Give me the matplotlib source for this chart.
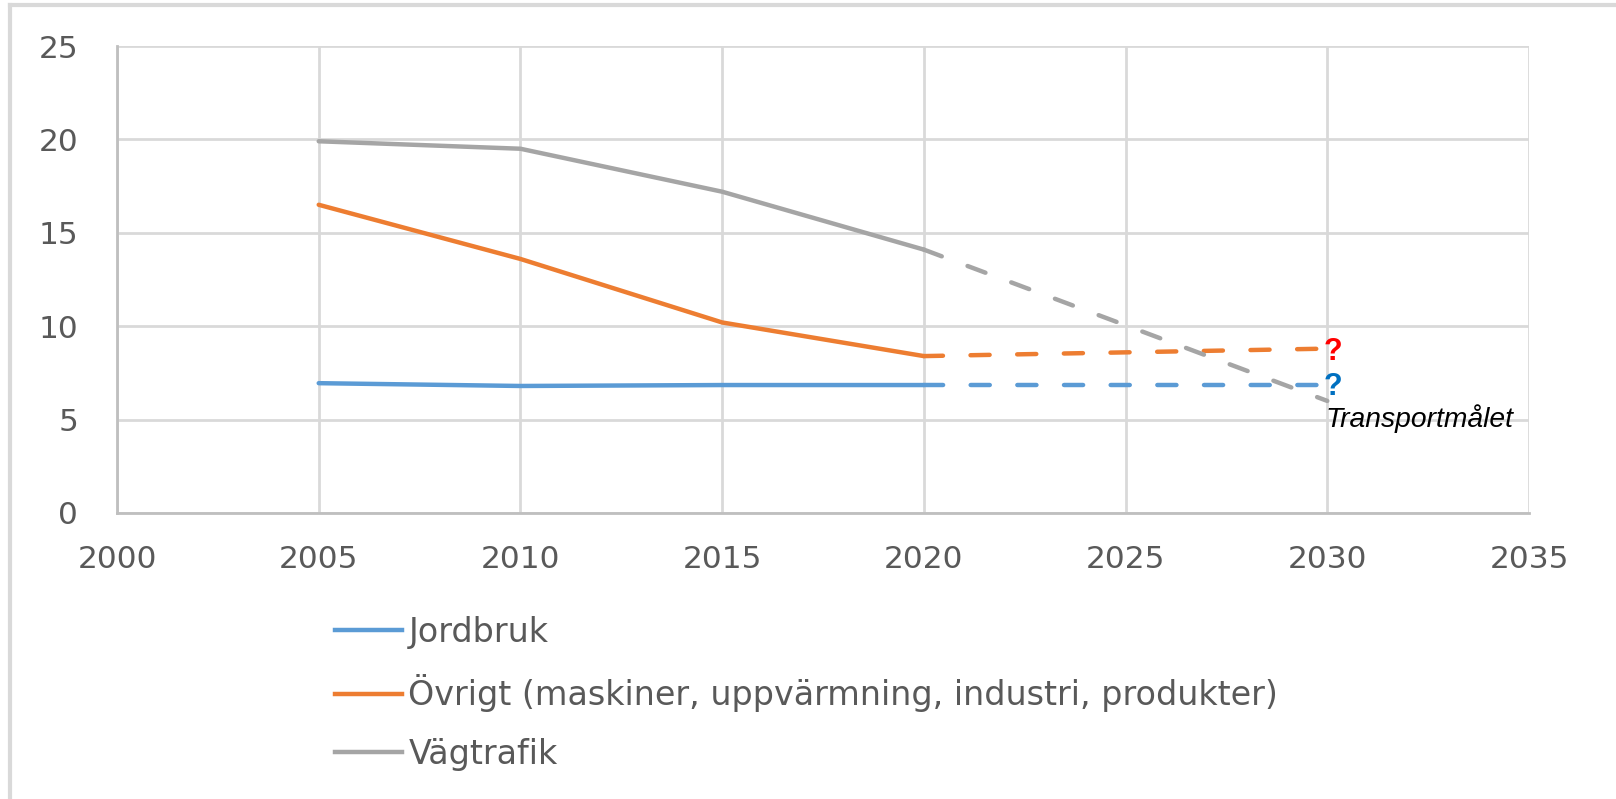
import matplotlib
matplotlib.use("Agg")
import matplotlib.pyplot as plt
from matplotlib.lines import Line2D

# measured years and values
years = [2005, 2010, 2015, 2020]
jordbruk = [6.95, 6.8, 6.85, 6.85]
ovrigt = [16.5, 13.6, 10.2, 8.4]
vagtrafik = [19.9, 19.5, 17.2, 14.1]

# projection 2020 -> 2030
proj_years = [2020, 2030]
jordbruk_proj = [6.85, 6.85]
ovrigt_proj = [8.4, 8.8]
vagtrafik_proj = [14.1, 6.0]

labels = ["Jordbruk",
          "Övrigt (maskiner, uppvärmning, industri, produkter)",
          "Vägtrafik"]
colors = ["#5B9BD5", "#ED7D31", "#A5A5A5"]

xticks = [2000, 2005, 2010, 2015, 2020, 2025, 2030, 2035]
yticks = [0, 5, 10, 15, 20, 25]

fig = plt.figure(figsize=(16.16, 7.99), dpi=100)
ax = fig.add_axes([117 / 1616, 1 - 513 / 799, 1412 / 1616, 467 / 799])

lw = 3.2
dash = (0, (4.3, 6.2))
series = [jordbruk, ovrigt, vagtrafik]
projs = [jordbruk_proj, ovrigt_proj, vagtrafik_proj]
for vals, proj, c, lab in zip(series, projs, colors, labels):
    ax.plot(years, vals, color=c, lw=lw, solid_capstyle="round", label=lab)
    ax.plot(proj_years, proj, color=c, lw=lw, linestyle=dash,
            dash_capstyle="round")

ax.set_xlim(2000, 2035)
ax.set_ylim(0, 25)
ax.set_xticks(xticks)
ax.set_yticks(yticks)
ax.grid(True, color="#D9D9D9", lw=2)
ax.set_axisbelow(True)
for s in ["top", "right"]:
    ax.spines[s].set_visible(False)
for s in ["left", "bottom"]:
    ax.spines[s].set_color("#BFBFBF")
    ax.spines[s].set_linewidth(2)
ax.tick_params(length=0, labelsize=22.5, colors="#595959")
ax.tick_params(axis="y", pad=28)
ax.tick_params(axis="x", pad=23)

# annotations at 2030
ax.text(2029.9, ovrigt_proj[1] - 0.2, "?", color="#FF0000", fontsize=22,
        fontweight="bold", family="Liberation Sans", va="center", ha="left")
ax.text(2029.9, jordbruk_proj[1] - 0.1, "?", color="#0070C0", fontsize=22,
        fontweight="bold", family="Liberation Sans", va="center", ha="left")
ax.text(2029.95, vagtrafik_proj[1] - 0.15, "Transportmålet", fontsize=20.3,
        style="italic", family="Liberation Sans", va="top", ha="left")

handles = [Line2D([], [], color=c, lw=lw) for c in colors]
leg = fig.legend(handles, labels, loc="upper left",
                 bbox_to_anchor=(335 / 1616, 1 - 616 / 799),
                 frameon=False, handlelength=2.0, handletextpad=0.2,
                 labelspacing=0.76, borderaxespad=0, borderpad=0,
                 prop={"family": "DejaVu Sans", "size": 24})
for t in leg.get_texts():
    t.set_color("#595959")

# outer frame (left and top edges only)
fig.add_artist(Line2D([9.5 / 1616, 9.5 / 1616], [0, 1 - 5 / 799],
                      transform=fig.transFigure, color="#D9D9D9", lw=3))
fig.add_artist(Line2D([9.5 / 1616, 1], [1 - 5 / 799, 1 - 5 / 799],
                      transform=fig.transFigure, color="#D9D9D9", lw=3))

fig.savefig("out.png", dpi=100)
